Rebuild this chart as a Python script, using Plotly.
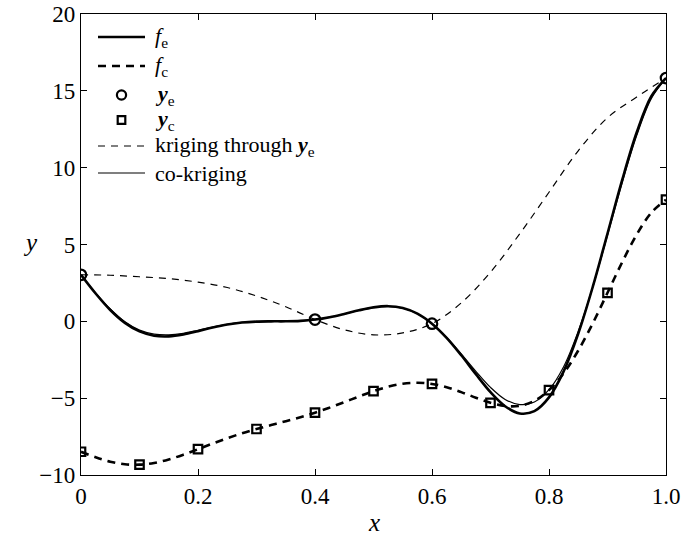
import plotly.graph_objects as go

# sampled curve abscissae
x_curve = [0.0, 0.025, 0.05, 0.075, 0.1, 0.125, 0.15, 0.175, 0.2, 0.225, 0.25,
           0.275, 0.3, 0.325, 0.35, 0.375, 0.4, 0.425, 0.45, 0.475, 0.5,
           0.525, 0.55, 0.575, 0.6, 0.625, 0.65, 0.675, 0.7, 0.725, 0.75,
           0.775, 0.8, 0.825, 0.85, 0.875, 0.9, 0.925, 0.95, 0.975, 1.0]

f_e = [3.027, 1.813, 0.738, -0.100, -0.657, -0.935, -0.978, -0.854, -0.640, -0.407, -0.210,
       -0.079, -0.016, 0.000, 0.002, 0.030, 0.115, 0.270, 0.483, 0.717, 0.909,
       0.986, 0.871, 0.503, -0.150, -1.074, -2.209, -3.439, -4.606, -5.522, -5.993,
       -5.845, -4.949, -3.254, -0.799, 2.272, 5.712, 9.187, 12.303, 14.651, 15.830]

f_c = [-8.486, -8.843, -9.131, -9.300, -9.328, -9.218, -8.989, -8.677, -8.320, -7.954, -7.605,
       -7.290, -7.008, -6.750, -6.499, -6.235, -5.943, -5.615, -5.259, -4.892, -4.545,
       -4.257, -4.064, -3.999, -4.075, -4.287, -4.605, -4.970, -5.303, -5.511, -5.497,
       -5.172, -4.475, -3.377, -1.900, -0.114, 1.856, 3.844, 5.652, 7.075, 7.915]

cokriging = [3.03, 1.85, 0.80, -0.03, -0.57, -0.83, -0.88, -0.78, -0.58, -0.37, -0.19,
             -0.07, -0.01, 0.00, 0.00, 0.03, 0.115, 0.27, 0.48, 0.71, 0.90,
             0.97, 0.85, 0.49, -0.15, -1.05, -2.12, -3.25, -4.30, -5.08, -5.42,
             -5.25, -4.45, -2.95, -0.65, 2.25, 5.60, 9.00, 12.10, 14.50, 15.83]

x_krig = [0.0, 0.05, 0.1, 0.15, 0.2, 0.25, 0.3, 0.35, 0.4, 0.45, 0.5,
          0.55, 0.6, 0.65, 0.7, 0.75, 0.8, 0.85, 0.9, 0.95, 1.0]
kriging = [3.03, 3.0, 2.9, 2.78, 2.55, 2.2, 1.65, 0.95, 0.12, -0.55, -0.88,
           -0.75, -0.15, 1.2, 3.2, 5.7, 8.4, 11.1, 13.25, 14.6, 15.83]

x_e = [0.0, 0.4, 0.6, 1.0]
y_e = [3.027, 0.115, -0.150, 15.830]

x_c = [0.0, 0.1, 0.2, 0.3, 0.4, 0.5, 0.6, 0.7, 0.8, 0.9, 1.0]
y_c = [-8.486, -9.328, -8.320, -7.008, -5.943, -4.545, -4.075, -5.303, -4.475, 1.856, 7.915]

x_ticks = [0, 0.2, 0.4, 0.6, 0.8, 1.0]
x_ticklabels = ["0", "0.2", "0.4", "0.6", "0.8", "1.0"]
y_ticks = [-10, -5, 0, 5, 10, 15, 20]
y_ticklabels = ["\u221210", "\u22125", "0", "5", "10", "15", "20"]

legend_labels = ["<i>f</i><sub>e</sub>", "<i>f</i><sub>c</sub>",
                 "<b><i>y</i></b><sub>e</sub>", "<b><i>y</i></b><sub>c</sub>",
                 "kriging through <b><i>y</i></b><sub>e</sub>", "co-kriging"]

FONT = "Liberation Serif"

# figure geometry
W, H = 683, 538
ML, MR, MT, MB = 81, 17, 14, 63
PW, PH = W - ML - MR, H - MT - MB


def px2x(px):
    return (px - ML) / PW


def py2y(py):
    return (MT + PH - py) / PH


fig = go.Figure()
fig.add_trace(go.Scatter(x=x_curve, y=f_e, mode="lines", name=legend_labels[0],
                         line=dict(color="black", width=2.6, shape="spline")))
fig.add_trace(go.Scatter(x=x_curve, y=f_c, mode="lines", name=legend_labels[1],
                         line=dict(color="black", width=2.6, dash="8px,6px", shape="spline")))
fig.add_trace(go.Scatter(x=x_krig, y=kriging, mode="lines", name=legend_labels[4],
                         line=dict(color="black", width=1.2, dash="7px,6px", shape="spline")))
fig.add_trace(go.Scatter(x=x_curve, y=cokriging, mode="lines", name=legend_labels[5],
                         line=dict(color="black", width=1.2, shape="spline")))
fig.add_trace(go.Scatter(x=x_e, y=y_e, mode="markers", name=legend_labels[2],
                         marker=dict(symbol="circle-open", size=10.5, color="black", line=dict(width=2.2))))
fig.add_trace(go.Scatter(x=x_c, y=y_c, mode="markers", name=legend_labels[3],
                         marker=dict(symbol="square-open", size=8.5, color="black", line=dict(width=2.2))))

axis_common = dict(showgrid=False, zeroline=False, showline=True, linecolor="black", linewidth=1.2,
                   mirror="ticks", ticks="inside", ticklen=6, tickcolor="black", automargin=False,
                   ticklabeloverflow="allow",
                   tickfont=dict(family=FONT, size=23, color="black"))

fig.update_xaxes(range=[0, 1], tickvals=x_ticks, ticktext=x_ticklabels, **axis_common)
fig.update_yaxes(range=[-10, 20], tickvals=y_ticks, ticktext=y_ticklabels, **axis_common)

# compact legend (drawn as layout decorations)
rows = [37, 66, 95, 120, 146, 173]
x0s, x1s = px2x(98), px2x(145)
xm = px2x(121.5)
shapes = []
annotations = []
styles = [("solid", 2.6), ("8px,6px", 2.6), None, None, ("7px,6px", 1.2), ("solid", 1.2)]
for i, lab in enumerate(legend_labels):
    yy = py2y(rows[i])
    st = styles[i]
    if st is not None:
        shapes.append(dict(type="line", xref="paper", yref="paper", x0=x0s, x1=x1s, y0=yy, y1=yy,
                           line=dict(color="black", width=st[1], dash=st[0])))
    annotations.append(dict(text=lab, xref="paper", yref="paper", x=px2x(153), y=yy,
                            xanchor="left", yanchor="middle", showarrow=False,
                            font=dict(family=FONT, size=22, color="black")))
# legend marker glyphs
r = 4.6 / PW
rv = 4.6 / PH
shapes.append(dict(type="circle", xref="paper", yref="paper", x0=xm - r, x1=xm + r,
                   y0=py2y(rows[2]) - rv, y1=py2y(rows[2]) + rv, line=dict(color="black", width=2.2)))
s = 3.8 / PW
sv = 3.8 / PH
shapes.append(dict(type="rect", xref="paper", yref="paper", x0=xm - s, x1=xm + s,
                   y0=py2y(rows[3]) - sv, y1=py2y(rows[3]) + sv, line=dict(color="black", width=2.2)))

# axis titles
annotations.append(dict(text="<i>x</i>", xref="paper", yref="paper", x=0.5, y=py2y(522),
                        xanchor="center", yanchor="middle", showarrow=False,
                        font=dict(family=FONT, size=25, color="black")))
annotations.append(dict(text="<i>y</i>", xref="paper", yref="paper", x=px2x(30), y=py2y(243),
                        xanchor="center", yanchor="middle", showarrow=False,
                        font=dict(family=FONT, size=25, color="black")))

fig.update_layout(
    width=W, height=H,
    margin=dict(l=ML, r=MR, t=MT, b=MB, autoexpand=False),
    paper_bgcolor="white", plot_bgcolor="white",
    font=dict(family=FONT, color="black"),
    showlegend=False,
    shapes=shapes,
    annotations=annotations,
)

fig.write_html("out.html", config={"displayModeBar": False},
               post_script="document.body.style.margin='0px';")
